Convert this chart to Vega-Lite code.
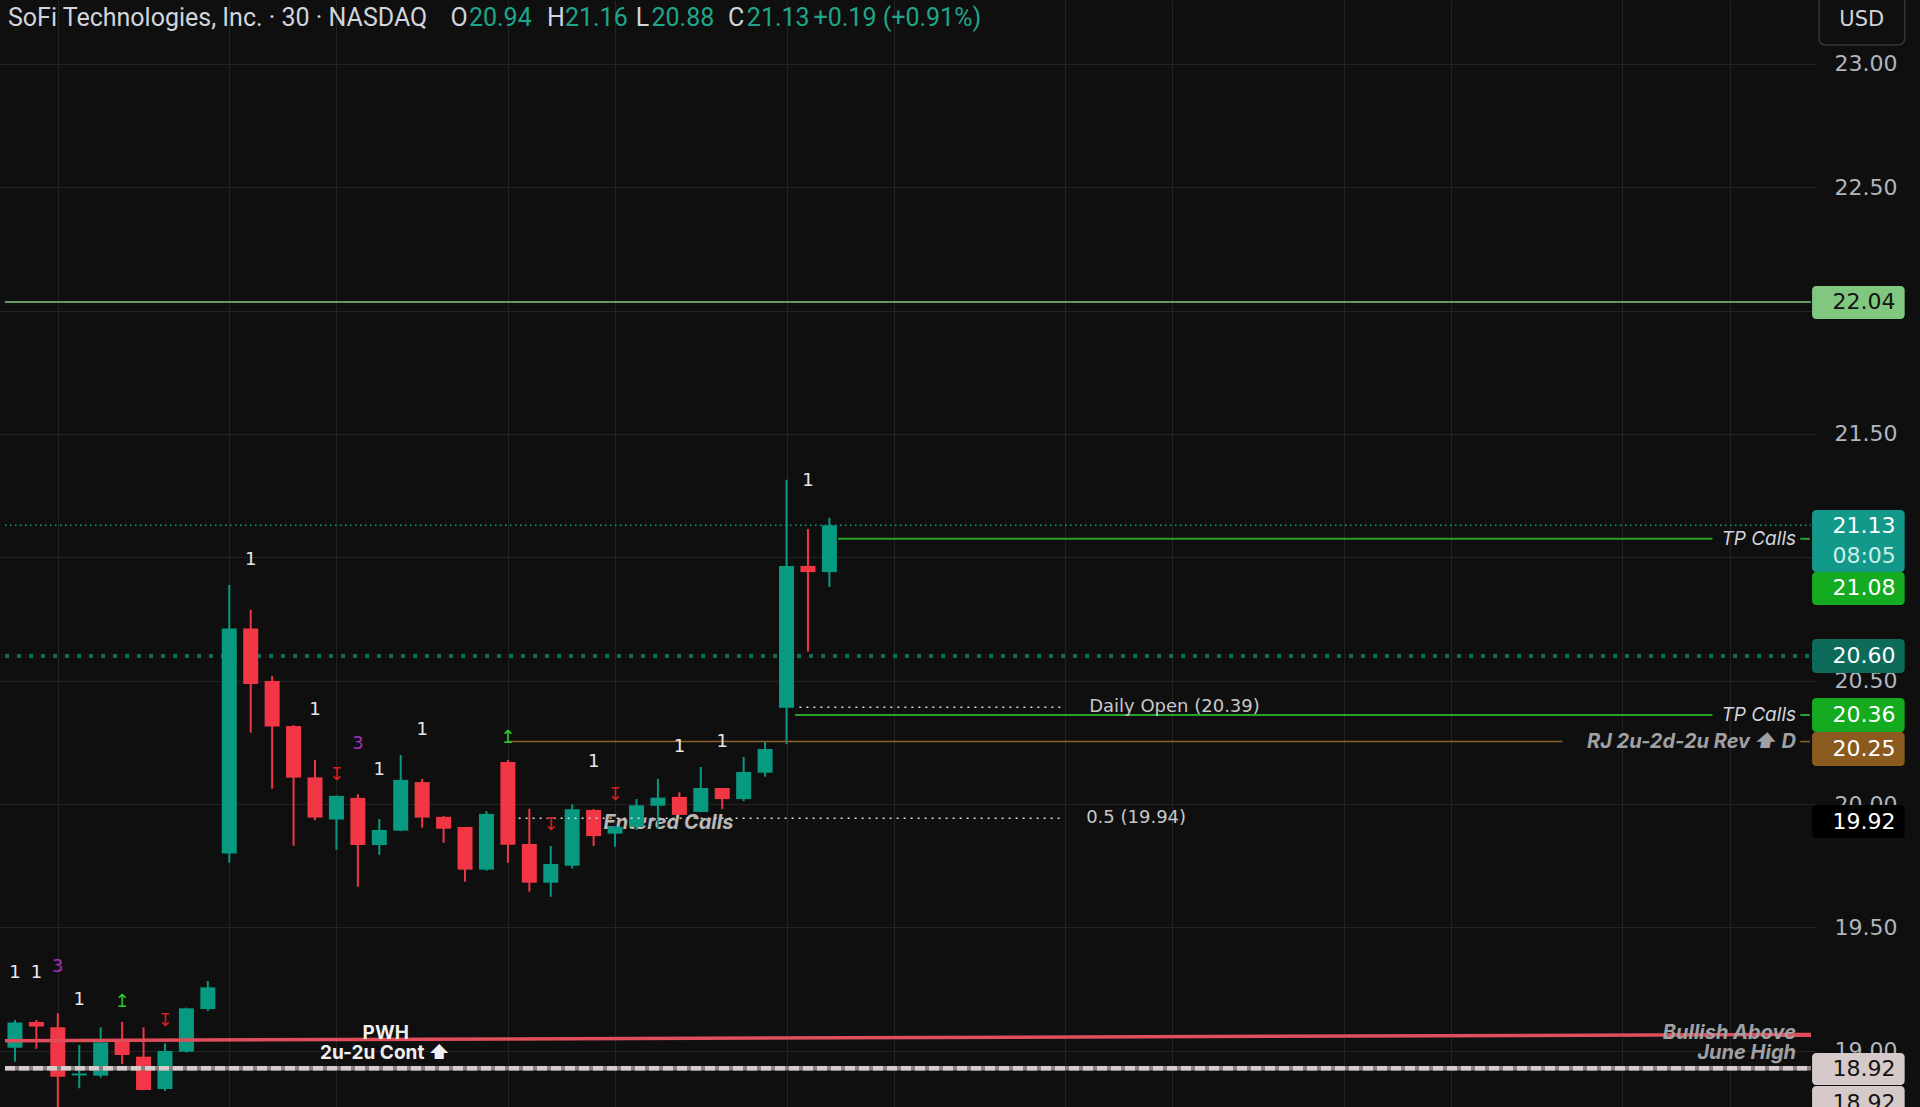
{
  "$schema": "https://vega.github.io/schema/vega-lite/v6.json",
  "width": 1816,
  "height": 1107,
  "autosize": {"type": "none"},
  "padding": {"left": 0, "top": 0, "right": 104, "bottom": 0},
  "background": "#0f0f0f",
  "config": {"view": {"stroke": null}, "font": "Roboto"},
  "resolve": {"scale": {"color": "independent"}},
  "datasets": {
    "candles": [
      {"i": 0, "o": 19.012, "h": 19.125, "l": 18.956, "c": 19.115},
      {"i": 1, "o": 19.117, "h": 19.125, "l": 19.008, "c": 19.098},
      {"i": 2, "o": 19.095, "h": 19.152, "l": 18.74, "c": 18.895},
      {"i": 3, "o": 18.9, "h": 19.023, "l": 18.848, "c": 18.908},
      {"i": 4, "o": 18.899, "h": 19.095, "l": 18.891, "c": 19.034},
      {"i": 5, "o": 19.037, "h": 19.117, "l": 18.946, "c": 18.983},
      {"i": 6, "o": 18.976, "h": 19.095, "l": 18.84, "c": 18.841},
      {"i": 7, "o": 18.845, "h": 19.03, "l": 18.837, "c": 18.999},
      {"i": 8, "o": 18.996, "h": 19.175, "l": 18.993, "c": 19.172},
      {"i": 9, "o": 19.169, "h": 19.283, "l": 19.161, "c": 19.257},
      {"i": 10, "o": 19.8, "h": 20.888, "l": 19.762, "c": 20.712},
      {"i": 11, "o": 20.712, "h": 20.787, "l": 20.289, "c": 20.487},
      {"i": 12, "o": 20.499, "h": 20.519, "l": 20.062, "c": 20.314},
      {"i": 13, "o": 20.316, "h": 20.32, "l": 19.831, "c": 20.107},
      {"i": 14, "o": 20.108, "h": 20.179, "l": 19.935, "c": 19.945},
      {"i": 15, "o": 19.937, "h": 20.035, "l": 19.814, "c": 20.033},
      {"i": 16, "o": 20.025, "h": 20.04, "l": 19.665, "c": 19.834},
      {"i": 17, "o": 19.834, "h": 19.939, "l": 19.794, "c": 19.895},
      {"i": 18, "o": 19.892, "h": 20.199, "l": 19.89, "c": 20.098},
      {"i": 19, "o": 20.089, "h": 20.102, "l": 19.904, "c": 19.945},
      {"i": 20, "o": 19.948, "h": 19.952, "l": 19.843, "c": 19.9},
      {"i": 21, "o": 19.907, "h": 19.907, "l": 19.685, "c": 19.734},
      {"i": 22, "o": 19.734, "h": 19.971, "l": 19.73, "c": 19.96},
      {"i": 23, "o": 20.17, "h": 20.179, "l": 19.762, "c": 19.835},
      {"i": 24, "o": 19.838, "h": 19.981, "l": 19.645, "c": 19.681},
      {"i": 25, "o": 19.681, "h": 19.83, "l": 19.624, "c": 19.757},
      {"i": 26, "o": 19.75, "h": 19.999, "l": 19.739, "c": 19.979},
      {"i": 27, "o": 19.976, "h": 19.98, "l": 19.83, "c": 19.87},
      {"i": 28, "o": 19.88, "h": 19.91, "l": 19.827, "c": 19.908},
      {"i": 29, "o": 19.908, "h": 20.02, "l": 19.895, "c": 19.995},
      {"i": 30, "o": 19.993, "h": 20.102, "l": 19.902, "c": 20.026},
      {"i": 31, "o": 20.029, "h": 20.048, "l": 19.955, "c": 19.956},
      {"i": 32, "o": 19.968, "h": 20.15, "l": 19.968, "c": 20.065},
      {"i": 33, "o": 20.065, "h": 20.065, "l": 19.98, "c": 20.02},
      {"i": 34, "o": 20.02, "h": 20.191, "l": 20.012, "c": 20.13},
      {"i": 35, "o": 20.127, "h": 20.252, "l": 20.111, "c": 20.223},
      {"i": 36, "o": 20.39, "h": 21.314, "l": 20.242, "c": 20.965},
      {"i": 37, "o": 20.965, "h": 21.115, "l": 20.618, "c": 20.94},
      {"i": 38, "o": 20.94, "h": 21.16, "l": 20.88, "c": 21.13}
    ],
    "levels": [
      {"name": "p2060", "x1": -0.464, "x2": 83.8, "y1": 20.6, "y2": 20.6},
      {"name": "p2113", "x1": -0.464, "x2": 83.8, "y1": 21.13, "y2": 21.13},
      {"name": "p2204", "x1": -0.464, "x2": 83.8, "y1": 22.035, "y2": 22.035},
      {"name": "tp", "x1": 38.4, "x2": 79.2, "y1": 21.075, "y2": 21.075},
      {"name": "tp", "x1": 36.4, "x2": 79.2, "y1": 20.361, "y2": 20.361},
      {"name": "tp", "x1": 83.3, "x2": 83.75, "y1": 21.075, "y2": 21.075},
      {"name": "tp", "x1": 83.3, "x2": 83.75, "y1": 20.361, "y2": 20.361},
      {"name": "rj", "x1": 23, "x2": 72.2, "y1": 20.253, "y2": 20.253},
      {"name": "rj", "x1": 83.3, "x2": 83.75, "y1": 20.253, "y2": 20.253},
      {"name": "dot", "x1": 36.6, "x2": 48.96, "y1": 20.392, "y2": 20.392},
      {"name": "dot", "x1": 23.5, "x2": 48.96, "y1": 19.942, "y2": 19.942},
      {"name": "pwh", "x1": -0.464, "x2": 83.8, "y1": 19.041, "y2": 19.066},
      {"name": "june", "x1": -0.464, "x2": 83.8, "y1": 18.929, "y2": 18.929}
    ],
    "marks": [
      {"t": "1", "kind": "w", "i": 0, "p": 19.315},
      {"t": "1", "kind": "w", "i": 1, "p": 19.315},
      {"t": "3", "kind": "p", "i": 2, "p": 19.341},
      {"t": "1", "kind": "w", "i": 3, "p": 19.206},
      {"t": "↥", "kind": "g", "i": 5, "p": 19.199},
      {"t": "↧", "kind": "r", "i": 7, "p": 19.122},
      {"t": "1", "kind": "w", "i": 11, "p": 20.991},
      {"t": "1", "kind": "w", "i": 14, "p": 20.381},
      {"t": "↧", "kind": "r", "i": 15, "p": 20.118},
      {"t": "3", "kind": "p", "i": 16, "p": 20.242},
      {"t": "1", "kind": "w", "i": 17, "p": 20.138},
      {"t": "1", "kind": "w", "i": 19, "p": 20.3},
      {"t": "↥", "kind": "g", "i": 23, "p": 20.267},
      {"t": "↧", "kind": "r", "i": 25, "p": 19.915},
      {"t": "1", "kind": "w", "i": 27, "p": 20.169},
      {"t": "↧", "kind": "r", "i": 28, "p": 20.037},
      {"t": "1", "kind": "w", "i": 31, "p": 20.232},
      {"t": "1", "kind": "w", "i": 33, "p": 20.253},
      {"t": "1", "kind": "w", "i": 37, "p": 21.311}
    ],
    "notes": [
      {"t": "TP Calls", "x": 83.1, "p": 21.075},
      {"t": "TP Calls", "x": 83.1, "p": 20.361}
    ],
    "greynotes": [
      {"t": "RJ 2u-2d-2u Rev ⬆ D", "x": 83.1, "p": 20.253},
      {"t": "Bullish Above", "x": 83.1, "p": 19.072},
      {"t": "June High", "x": 83.1, "p": 18.99}
    ],
    "plain": [
      {"t": "Daily Open (20.39)", "x": 50.12, "p": 20.392},
      {"t": "0.5 (19.94)", "x": 49.98, "p": 19.943}
    ],
    "bold": [
      {"t": "PWH", "x": 17.3, "p": 19.072},
      {"t": "2u-2u Cont ⬆", "x": 17.26, "p": 18.99}
    ],
    "entered": [
      {"t": "Entered Calls", "x": 30.49, "p": 19.923}
    ],
    "header": [
      {"t": "SoFi Technologies, Inc. · 30 · NASDAQ", "kind": "grey", "x": -0.325},
      {"t": "O", "kind": "grey", "x": 20.32},
      {"t": "20.94", "kind": "num", "x": 21.18},
      {"t": "H", "kind": "grey", "x": 24.83},
      {"t": "21.16", "kind": "num", "x": 25.66},
      {"t": "L", "kind": "grey", "x": 28.96},
      {"t": "20.88", "kind": "num", "x": 29.7},
      {"t": "C", "kind": "grey", "x": 33.27},
      {"t": "21.13", "kind": "num", "x": 34.15},
      {"t": "+0.19 (+0.91%)", "kind": "num", "x": 37.26}
    ],
    "tags": [
      {"kind": "lg", "top": 22.1, "bot": 21.966},
      {"kind": "teal", "top": 21.192, "bot": 20.941},
      {"kind": "green", "top": 20.941, "bot": 20.807},
      {"kind": "dteal", "top": 20.669, "bot": 20.531},
      {"kind": "green", "top": 20.43, "bot": 20.292},
      {"kind": "brown", "top": 20.292, "bot": 20.154},
      {"kind": "black", "top": 19.996, "bot": 19.862},
      {"kind": "pink", "top": 18.991, "bot": 18.861},
      {"kind": "pink", "top": 18.857, "bot": 18.7}
    ],
    "tagtext": [
      {"t": "22.04", "kind": "dark", "p": 22.033},
      {"t": "21.13", "kind": "white", "p": 21.127},
      {"t": "08:05", "kind": "light", "p": 21.005},
      {"t": "21.08", "kind": "white", "p": 20.874},
      {"t": "20.60", "kind": "white", "p": 20.6},
      {"t": "20.36", "kind": "white", "p": 20.361},
      {"t": "20.25", "kind": "white", "p": 20.223},
      {"t": "19.92", "kind": "white", "p": 19.929},
      {"t": "18.92", "kind": "dark", "p": 18.926},
      {"t": "18.92", "kind": "dark", "p": 18.79}
    ],
    "usd": [
      {"t": "USD", "x1": 84.18, "x2": 88.17, "top": 23.33, "bot": 23.077, "x": 86.17, "p": 23.178}
    ]
  },
  "encoding": {
    "x": {"type": "quantitative", "scale": {"domain": [-0.464, 83.8], "nice": false, "zero": false}},
    "y": {"type": "quantitative", "scale": {"domain": [18.772, 23.259], "nice": false, "zero": false}}
  },
  "layer": [
    {
      "data": {"name": "candles"},
      "mark": {"type": "rule", "opacity": 0},
      "encoding": {
        "x": {"field": "i", "type": "quantitative", "axis": {"orient": "bottom", "values": [2, 10, 15, 23, 28, 36, 41, 49, 54, 62, 67, 75, 80], "grid": true, "gridColor": "#232323", "gridWidth": 1, "labels": false, "ticks": false, "domain": false, "title": null}},
        "y": {"field": "c", "type": "quantitative", "axis": {"orient": "right", "values": [19, 19.5, 20, 20.5, 21, 21.5, 22, 22.5, 23], "format": ".2f", "grid": true, "gridColor": "#232323", "gridWidth": 1, "ticks": false, "domain": false, "labelPadding": 18, "labelFont": "DejaVu Sans", "labelFontSize": 22, "labelColor": "#b2b5be", "labelAlign": "left", "title": null}}
      }
    },
    {
      "data": {"name": "levels"},
      "transform": [{"filter": "datum.name == 'p2060'"}],
      "mark": {"type": "rule", "color": "#12695c", "strokeWidth": 4, "strokeDash": [4, 8], "strokeCap": "butt"},
      "encoding": {"x": {"field": "x1"}, "x2": {"field": "x2"}, "y": {"field": "y1"}, "y2": {"field": "y2"}}
    },
    {
      "data": {"name": "levels"},
      "transform": [{"filter": "datum.name == 'p2113'"}],
      "mark": {"type": "rule", "color": "#169c8a", "strokeWidth": 1.5, "strokeDash": [1.5, 3.5]},
      "encoding": {"x": {"field": "x1"}, "x2": {"field": "x2"}, "y": {"field": "y1"}, "y2": {"field": "y2"}}
    },
    {
      "data": {"name": "levels"},
      "transform": [{"filter": "datum.name == 'p2204'"}],
      "mark": {"type": "rule", "color": "#80c880", "strokeWidth": 1.5},
      "encoding": {"x": {"field": "x1"}, "x2": {"field": "x2"}, "y": {"field": "y1"}, "y2": {"field": "y2"}}
    },
    {
      "data": {"name": "entered"},
      "mark": {"type": "text", "font": "Inter", "fontSize": 20, "fontWeight": "bold", "fontStyle": "italic", "color": "#b8b8b8", "align": "center", "baseline": "middle"},
      "encoding": {"x": {"field": "x"}, "y": {"field": "p"}, "text": {"field": "t"}}
    },
    {
      "data": {"name": "candles"},
      "mark": {"type": "rule", "strokeWidth": 2},
      "encoding": {
        "x": {"field": "i"}, "y": {"field": "l"}, "y2": {"field": "h"},
        "color": {"condition": {"test": "datum.c >= datum.o", "value": "#089981"}, "value": "#f23645"}
      }
    },
    {
      "data": {"name": "candles"},
      "mark": {"type": "bar", "size": 15},
      "encoding": {
        "x": {"field": "i"}, "y": {"field": "o"}, "y2": {"field": "c"},
        "color": {"condition": {"test": "datum.c >= datum.o", "value": "#089981"}, "value": "#f23645"}
      }
    },
    {
      "data": {"name": "levels"},
      "transform": [{"filter": "datum.name == 'tp'"}],
      "mark": {"type": "rule", "color": "#27a22b", "strokeWidth": 2},
      "encoding": {"x": {"field": "x1"}, "x2": {"field": "x2"}, "y": {"field": "y1"}, "y2": {"field": "y2"}}
    },
    {
      "data": {"name": "levels"},
      "transform": [{"filter": "datum.name == 'rj'"}],
      "mark": {"type": "rule", "color": "#8d6130", "strokeWidth": 1.5},
      "encoding": {"x": {"field": "x1"}, "x2": {"field": "x2"}, "y": {"field": "y1"}, "y2": {"field": "y2"}}
    },
    {
      "data": {"name": "levels"},
      "transform": [{"filter": "datum.name == 'dot'"}],
      "mark": {"type": "rule", "color": "#d8d8d8", "strokeWidth": 1.5, "strokeDash": [2, 5]},
      "encoding": {"x": {"field": "x1"}, "x2": {"field": "x2"}, "y": {"field": "y1"}, "y2": {"field": "y2"}}
    },
    {
      "data": {"name": "levels"},
      "transform": [{"filter": "datum.name == 'june'"}],
      "mark": {"type": "rule", "color": "#8a8080", "strokeWidth": 4.5},
      "encoding": {"x": {"field": "x1"}, "x2": {"field": "x2"}, "y": {"field": "y1"}, "y2": {"field": "y2"}}
    },
    {
      "data": {"name": "levels"},
      "transform": [{"filter": "datum.name == 'june'"}],
      "mark": {"type": "rule", "color": "#d6cccc", "strokeWidth": 4.5, "strokeDash": [10, 4], "strokeCap": "butt"},
      "encoding": {"x": {"field": "x1"}, "x2": {"field": "x2"}, "y": {"field": "y1"}, "y2": {"field": "y2"}}
    },
    {
      "data": {"name": "levels"},
      "transform": [{"filter": "datum.name == 'pwh'"}],
      "mark": {"type": "rule", "color": "#e04e5c", "strokeWidth": 3.5},
      "encoding": {"x": {"field": "x1"}, "x2": {"field": "x2"}, "y": {"field": "y1"}, "y2": {"field": "y2"}}
    },
    {
      "data": {"name": "marks"},
      "mark": {"type": "text", "font": "DejaVu Sans", "fontSize": 18, "align": "center", "baseline": "middle"},
      "encoding": {
        "x": {"field": "i"}, "y": {"field": "p"}, "text": {"field": "t"},
        "color": {"field": "kind", "type": "nominal", "scale": {"domain": ["w", "p", "g", "r"], "range": ["#e8e8e8", "#a12fc4", "#2ecc2e", "#d61f1f"]}, "legend": null}
      }
    },
    {
      "data": {"name": "notes"},
      "mark": {"type": "text", "font": "Inter", "fontSize": 19, "fontStyle": "italic", "color": "#d1d4dc", "align": "right", "baseline": "middle"},
      "encoding": {"x": {"field": "x"}, "y": {"field": "p"}, "text": {"field": "t"}}
    },
    {
      "data": {"name": "greynotes"},
      "mark": {"type": "text", "font": "Inter", "fontSize": 20, "fontStyle": "italic", "fontWeight": "bold", "color": "#a0a0a5", "align": "right", "baseline": "middle"},
      "encoding": {"x": {"field": "x"}, "y": {"field": "p"}, "text": {"field": "t"}}
    },
    {
      "data": {"name": "plain"},
      "mark": {"type": "text", "font": "DejaVu Sans", "fontSize": 18, "color": "#c8c8c8", "align": "left", "baseline": "middle"},
      "encoding": {"x": {"field": "x"}, "y": {"field": "p"}, "text": {"field": "t"}}
    },
    {
      "data": {"name": "bold"},
      "mark": {"type": "text", "font": "Inter", "fontSize": 19, "fontWeight": "bold", "color": "#f0f0f0", "align": "center", "baseline": "middle"},
      "encoding": {"x": {"field": "x"}, "y": {"field": "p"}, "text": {"field": "t"}}
    },
    {
      "data": {"name": "header"},
      "mark": {"type": "text", "font": "Roboto", "fontSize": 25, "align": "left", "baseline": "middle"},
      "encoding": {
        "x": {"field": "x"}, "y": {"datum": 23.186}, "text": {"field": "t"},
        "color": {"field": "kind", "type": "nominal", "scale": {"domain": ["grey", "num"], "range": ["#d1d4dc", "#1fa58b"]}, "legend": null}
      }
    },
    {
      "data": {"name": "tags"},
      "mark": {"type": "rect", "cornerRadius": 4},
      "encoding": {
        "x": {"datum": 83.85}, "x2": {"datum": 88.17}, "y": {"field": "top"}, "y2": {"field": "bot"},
        "color": {"field": "kind", "type": "nominal", "scale": {"domain": ["lg", "teal", "green", "dteal", "brown", "black", "pink"], "range": ["#80c880", "#12998a", "#14ab20", "#0c6b5b", "#8b5a1f", "#000000", "#d5c9c9"]}, "legend": null}
      }
    },
    {
      "data": {"name": "tagtext"},
      "mark": {"type": "text", "font": "DejaVu Sans", "fontSize": 22, "align": "left", "baseline": "middle"},
      "encoding": {
        "x": {"datum": 84.8}, "y": {"field": "p"}, "text": {"field": "t"},
        "color": {"field": "kind", "type": "nominal", "scale": {"domain": ["dark", "white", "light"], "range": ["#131313", "#ffffff", "#cdeee8"]}, "legend": null}
      }
    },
    {
      "data": {"name": "usd"},
      "mark": {"type": "rect", "cornerRadius": 6, "fill": "#0f0f0f", "stroke": "#363636", "strokeWidth": 1.5},
      "encoding": {"x": {"field": "x1"}, "x2": {"field": "x2"}, "y": {"field": "top"}, "y2": {"field": "bot"}}
    },
    {
      "data": {"name": "usd"},
      "mark": {"type": "text", "font": "DejaVu Sans", "fontSize": 21, "color": "#d1d4dc", "align": "center", "baseline": "middle"},
      "encoding": {"x": {"field": "x"}, "y": {"field": "p"}, "text": {"field": "t"}}
    }
  ]
}
